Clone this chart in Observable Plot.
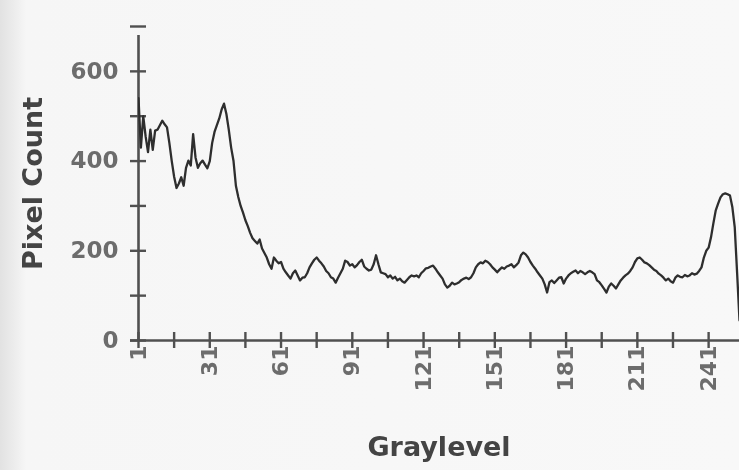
<!DOCTYPE html>
<html>
<head>
<meta charset="utf-8">
<script src="https://cdn.jsdelivr.net/npm/d3@7"></script>
<script src="https://cdn.jsdelivr.net/npm/@observablehq/plot@0.6"></script>
<style>
  html, body { margin: 0; padding: 0; }
  body {
    width: 739px; height: 470px; overflow: hidden;
    background: linear-gradient(to right, #e2e2e2 0px, #ececec 14px, #f6f6f6 26px, #f8f8f8 100%);
  }
  #chart svg { display: block; background: transparent !important; filter: blur(0.45px); }
</style>
</head>
<body>
<div id="chart"></div>
<script>
// Histogram: pixel count per graylevel (1..254 visible)
const pixelCounts = [
  540, 430, 500, 455, 420, 470, 425, 468, 470, 480,
  490, 482, 475, 440, 400, 365, 340, 350, 364, 345,
  385, 401, 390, 460, 408, 385, 395, 401, 392, 384,
  400, 440, 465, 480, 495, 515, 528, 505, 470, 430,
  400, 345, 320, 300, 285, 268, 255, 240, 228, 222,
  216, 225, 205, 195, 185, 170, 160, 185, 178, 172,
  175, 160, 152, 145, 138, 150, 156, 145, 134, 140,
  141, 150, 163, 172, 180, 185, 178, 172, 165, 155,
  150, 141, 138, 129, 140, 150, 160, 178, 175, 167,
  170, 163, 168, 175, 180, 165, 160, 156, 158, 170,
  190, 170, 152, 150, 148, 141, 145, 138, 142, 134,
  138, 132, 129, 135, 141, 145, 143, 145, 141, 150,
  155, 161, 162, 165, 167, 160, 152, 145, 138, 125,
  118, 122, 129, 125, 127, 130, 135, 138, 140, 137,
  141, 150, 163, 170, 174, 172, 178, 175, 170, 163,
  158, 152, 158, 163, 160, 165, 167, 170, 163, 168,
  174, 190, 196, 192, 185, 175, 167, 160, 152, 145,
  138, 125, 107, 130, 134, 128, 134, 140, 141, 127,
  138, 145, 150, 153, 156, 150, 155, 152, 148, 152,
  155, 152, 148, 134, 130, 123, 115, 107, 120, 127,
  122, 116, 125, 134, 140, 145, 149, 155, 163, 175,
  183, 185, 180, 174, 172, 168, 163, 158, 155, 149,
  145, 140, 134, 138, 132, 129, 140, 145, 142, 141,
  146, 143, 145, 150, 147, 149, 155, 163, 185, 200,
  207, 230, 261, 290, 305, 319, 326, 328, 326, 323,
  297, 252, 150, 45
];
const xLabelTicks = [1, 31, 61, 91, 121, 151, 181, 211, 241];
const xTickMarks = [1, 16, 31, 46, 61, 76, 91, 106, 121, 136, 151, 166, 181, 196, 211, 226, 241];
const yLabelTicks = [0, 200, 400, 600];
const yTickMarks = [0, 100, 200, 300, 400, 500, 600, 700];
const xTitle = "Graylevel";
const yTitle = "Pixel Count";

const data = pixelCounts.map((v, i) => ({graylevel: i + 1, count: v}));
const axisColor = "#505050";
const fontFam = "'DejaVu Sans', sans-serif";

const chart = Plot.plot({
  width: 739,
  height: 470,
  marginLeft: 138,
  marginRight: 0,
  marginTop: 26,
  marginBottom: 130,
  style: {background: "transparent", fontFamily: fontFam, overflow: "visible"},
  x: {domain: [1, 254], axis: null},
  y: {domain: [0, 700], axis: null},
  marks: [
    // axis lines
    Plot.ruleX([1], {y1: 0, y2: 700, stroke: axisColor, strokeWidth: 2.6, insetBottom: -9}),
    Plot.ruleY([0], {x1: 1, x2: 254, stroke: axisColor, strokeWidth: 2.6, insetLeft: -8}),
    // cross ticks
    Plot.ruleY(yTickMarks, {y: d => d, x1: 1, x2: 1, insetLeft: -8, insetRight: -8, stroke: axisColor, strokeWidth: 2.4}),
    Plot.ruleX(xTickMarks, {x: d => d, y1: 0, y2: 0, insetTop: -8, insetBottom: -8, stroke: axisColor, strokeWidth: 2.4}),
    // tick labels
    Plot.axisY({ticks: yLabelTicks, tickSize: 0, tickPadding: 20, fontSize: 23, fontWeight: "bold", color: "#6c6c6c", fontFamily: fontFam, label: null}),
    Plot.axisX({ticks: xLabelTicks, tickSize: 0, tickPadding: 5, tickRotate: -90, fontSize: 22, fontWeight: "bold", color: "#6c6c6c", fontFamily: fontFam, label: null}),
    // data line
    Plot.line(data, {x: "graylevel", y: "count", stroke: "#2e2e2e", strokeWidth: 2.3, clip: true}),
    // axis titles
    Plot.text([xTitle], {frameAnchor: "bottom", dy: 115, fontSize: 27, fontWeight: "bold", fill: "#444", fontFamily: fontFam}),
    Plot.text([yTitle], {frameAnchor: "left", dx: -105, rotate: -90, textAnchor: "middle", fontSize: 27, fontWeight: "bold", fill: "#444", fontFamily: fontFam})
  ]
});
document.getElementById("chart").appendChild(chart);
</script>
</body>
</html>
